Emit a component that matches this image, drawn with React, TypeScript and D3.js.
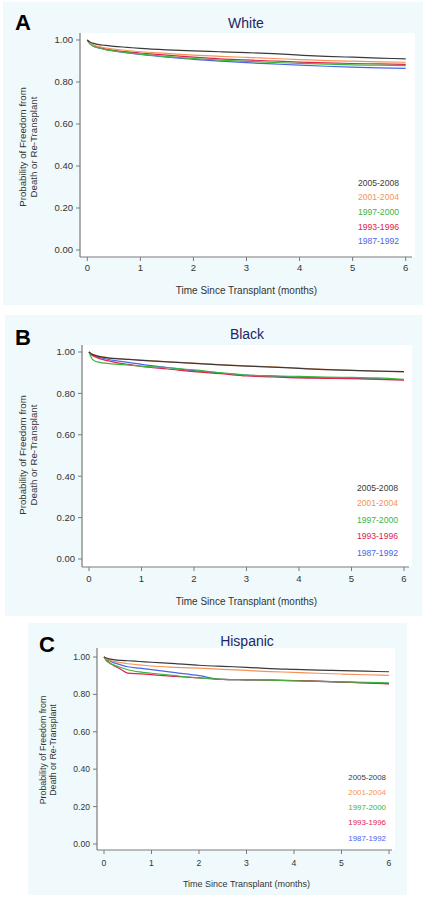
import React from "react";
import * as d3 from "d3";

// ---- Data ----
const times = [0, 0.05, 0.1, 0.2, 0.35, 0.5, 0.75, 1, 1.5, 2, 2.5, 3, 3.5, 4, 4.5, 5, 5.5, 6];
const seriesNames = ["2005-2008", "2001-2004", "1997-2000", "1993-1996", "1987-1992"];
const xTicks = [0, 1, 2, 3, 4, 5, 6];
const yTicks = [0, 0.2, 0.4, 0.6, 0.8, 1.0];

// Panel A: White
const whiteS1 = [1.0, 0.99, 0.985, 0.979, 0.974, 0.97, 0.965, 0.96, 0.953, 0.948, 0.944, 0.94, 0.935, 0.928, 0.922, 0.918, 0.914, 0.91];
const whiteS2 = [1.0, 0.985, 0.978, 0.97, 0.962, 0.957, 0.95, 0.944, 0.936, 0.928, 0.922, 0.917, 0.912, 0.907, 0.902, 0.899, 0.896, 0.894];
const whiteS3 = [1.0, 0.982, 0.973, 0.963, 0.954, 0.948, 0.94, 0.933, 0.921, 0.912, 0.904, 0.898, 0.893, 0.889, 0.885, 0.882, 0.88, 0.878];
const whiteS4 = [1.0, 0.984, 0.976, 0.966, 0.957, 0.951, 0.943, 0.938, 0.928, 0.918, 0.91, 0.905, 0.9, 0.895, 0.891, 0.888, 0.886, 0.884];
const whiteS5 = [1.0, 0.982, 0.973, 0.963, 0.954, 0.948, 0.939, 0.931, 0.918, 0.908, 0.899, 0.892, 0.886, 0.88, 0.875, 0.871, 0.867, 0.865];

// Panel B: Black
const blackS1 = [1.0, 0.99, 0.985, 0.978, 0.972, 0.968, 0.964, 0.96, 0.952, 0.945, 0.938, 0.932, 0.927, 0.921, 0.915, 0.911, 0.908, 0.905];
const blackS2 = [1.0, 0.99, 0.986, 0.979, 0.973, 0.969, 0.965, 0.961, 0.953, 0.946, 0.939, 0.933, 0.928, 0.922, 0.916, 0.911, 0.907, 0.904];
const blackS3 = [1.0, 0.97, 0.958, 0.95, 0.945, 0.941, 0.937, 0.932, 0.924, 0.914, 0.9, 0.889, 0.885, 0.882, 0.879, 0.877, 0.875, 0.868];
const blackS4 = [1.0, 0.985, 0.978, 0.968, 0.958, 0.95, 0.94, 0.93, 0.918, 0.905, 0.895, 0.884, 0.88, 0.875, 0.873, 0.871, 0.868, 0.864];
const blackS5 = [1.0, 0.988, 0.982, 0.974, 0.965, 0.958, 0.95, 0.94, 0.925, 0.91, 0.898, 0.888, 0.884, 0.878, 0.876, 0.873, 0.87, 0.866];

// Panel C: Hispanic
const hispS1 = [1.0, 0.995, 0.99, 0.986, 0.982, 0.98, 0.976, 0.972, 0.965, 0.956, 0.95, 0.945, 0.938, 0.934, 0.93, 0.927, 0.924, 0.921];
const hispS2 = [1.0, 0.99, 0.984, 0.978, 0.97, 0.964, 0.958, 0.952, 0.945, 0.94, 0.934, 0.928, 0.922, 0.918, 0.913, 0.909, 0.905, 0.902];
const hispS3 = [1.0, 0.98, 0.97, 0.958, 0.944, 0.932, 0.92, 0.913, 0.9, 0.888, 0.88, 0.878, 0.876, 0.873, 0.87, 0.867, 0.865, 0.862];
const hispS4 = [1.0, 0.985, 0.972, 0.955, 0.935, 0.914, 0.91, 0.906, 0.896, 0.888, 0.88, 0.878, 0.876, 0.874, 0.871, 0.866, 0.862, 0.856];
const hispS5 = [1.0, 0.99, 0.982, 0.97, 0.958, 0.948, 0.94, 0.932, 0.916, 0.9, 0.88, 0.878, 0.876, 0.874, 0.87, 0.866, 0.861, 0.858];

// ---- Styles ----
const seriesColors = ["#3a3a3a", "#f59356", "#3cb53c", "#e0234f", "#4a64ee"];
const FONT = "'Liberation Sans', Arial, sans-serif";

type PanelLayout = {
  letter: string;
  title: string;
  series: number[][];
  bg: [number, number, number, number];
  plotRight: number;
  plotTop: number;
  axisX: number;
  axisY: number;
  xRange: [number, number];
  yRange: [number, number];
  letterPos: [number, number];
  titlePos: [number, number];
  tickFont: number;
  tickLabelY: number;
  yLabelRight: number;
  xTitleY: number;
  xTitleFont: number;
  yLabelCenterY: number;
  yLabelX: [number, number];
  yLabelFont: number;
  legendRight: number;
  legendY: number[];
  legendFont: number;
};

const panels: PanelLayout[] = [
  {
    letter: "A", title: "White",
    series: [whiteS1, whiteS2, whiteS3, whiteS4, whiteS5],
    bg: [3, 2, 420, 303], plotRight: 415, plotTop: 33, axisX: 80, axisY: 257,
    xRange: [87.3, 405.7], yRange: [250, 40],
    letterPos: [15, 30], titlePos: [246, 28], tickFont: 9.5, tickLabelY: 271,
    yLabelRight: 73, xTitleY: 294, xTitleFont: 10, yLabelCenterY: 147,
    yLabelX: [25.5, 36.5], yLabelFont: 9.7, legendRight: 399,
    legendY: [186, 200, 215, 230, 244], legendFont: 8.6,
  },
  {
    letter: "B", title: "Black",
    series: [blackS1, blackS2, blackS3, blackS4, blackS5],
    bg: [5, 315, 417, 301], plotRight: 412, plotTop: 345, axisX: 82, axisY: 567,
    xRange: [89, 404], yRange: [559, 352],
    letterPos: [15, 345], titlePos: [247, 339], tickFont: 9.5, tickLabelY: 582,
    yLabelRight: 75, xTitleY: 605, xTitleFont: 10, yLabelCenterY: 455,
    yLabelX: [25.5, 36.5], yLabelFont: 9.7, legendRight: 398,
    legendY: [491, 506, 523, 539, 556], legendFont: 8.6,
  },
  {
    letter: "C", title: "Hispanic",
    series: [hispS1, hispS2, hispS3, hispS4, hispS5],
    bg: [28, 623, 379, 272], plotRight: 395, plotTop: 648, axisX: 97, axisY: 850,
    xRange: [104, 389], yRange: [844, 657],
    letterPos: [39, 652], titlePos: [247, 646], tickFont: 8.6, tickLabelY: 866,
    yLabelRight: 90, xTitleY: 887, xTitleFont: 9, yLabelCenterY: 750,
    yLabelX: [46, 56], yLabelFont: 8.8, legendRight: 386,
    legendY: [780, 795, 810, 825, 841], legendFont: 7.9,
  },
];

function Panel({ p }: { p: PanelLayout }) {
  const x = d3.scaleLinear().domain([0, 6]).range(p.xRange);
  const y = d3.scaleLinear().domain([0, 1]).range(p.yRange);
  const line = d3
    .line<number>()
    .x((_, i) => x(times[i]))
    .y((v) => y(v))
    .curve(d3.curveMonotoneX);
  const fmt = d3.format(".2f");
  const axisColor = "#7a7a7a";
  const [bx, by, bw, bh] = p.bg;
  return (
    <g>
      <rect x={bx} y={by} width={bw} height={bh} fill="#f0fafc" />
      <rect x={p.axisX} y={p.plotTop} width={p.plotRight - p.axisX} height={p.axisY - p.plotTop} fill="#ffffff" />
      <text x={p.letterPos[0]} y={p.letterPos[1]} fontFamily={FONT} fontWeight="bold" fontSize={22} fill="#000">
        {p.letter}
      </text>
      <text x={p.titlePos[0]} y={p.titlePos[1]} fontFamily={FONT} fontSize={14} fill="#1e2466" textAnchor="middle">
        {p.title}
      </text>
      {/* axes */}
      <line x1={p.axisX} x2={p.axisX} y1={p.plotTop} y2={p.axisY} stroke={axisColor} strokeWidth={1.2} />
      <line x1={p.axisX} x2={p.plotRight - 3} y1={p.axisY} y2={p.axisY} stroke={axisColor} strokeWidth={1.2} />
      {yTicks.map((t) => (
        <g key={"y" + t}>
          <line x1={p.axisX - 4} x2={p.axisX} y1={y(t)} y2={y(t)} stroke={axisColor} />
          <text x={p.yLabelRight} y={y(t) + p.tickFont * 0.35} fontFamily={FONT} fontSize={p.tickFont} fill="#333" textAnchor="end">
            {fmt(t)}
          </text>
        </g>
      ))}
      {xTicks.map((t) => (
        <g key={"x" + t}>
          <line x1={x(t)} x2={x(t)} y1={p.axisY} y2={p.axisY + 4} stroke={axisColor} />
          <text x={x(t)} y={p.tickLabelY} fontFamily={FONT} fontSize={p.tickFont} fill="#333" textAnchor="middle">
            {t}
          </text>
        </g>
      ))}
      <text x={(p.xRange[0] + p.xRange[1]) / 2} y={p.xTitleY} fontFamily={FONT} fontSize={p.xTitleFont} fill="#333" textAnchor="middle">
        Time Since Transplant (months)
      </text>
      <g fontFamily={FONT} fontSize={p.yLabelFont} fill="#333" textAnchor="middle">
        <text transform={`translate(${p.yLabelX[0]},${p.yLabelCenterY}) rotate(-90)`}>Probability of Freedom from</text>
        <text transform={`translate(${p.yLabelX[1]},${p.yLabelCenterY}) rotate(-90)`}>Death or Re-Transplant</text>
      </g>
      {/* curves: oldest first so newest on top */}
      {p.series
        .map((s, i) => ({ s, i }))
        .reverse()
        .map(({ s, i }) => (
          <path key={"s" + i} d={line(s) || ""} fill="none" stroke={seriesColors[i]} strokeWidth={1.2} />
        ))}
      {seriesNames.map((n, i) => (
        <text key={"l" + i} x={p.legendRight} y={p.legendY[i]} fontFamily={FONT} fontSize={p.legendFont} fill={seriesColors[i]} textAnchor="end">
          {n}
        </text>
      ))}
    </g>
  );
}

export default function App() {
  return (
    <svg width={428} height={900} style={{ position: "absolute", left: 0, top: 0, background: "#fff" }}>
      {panels.map((p) => (
        <Panel key={p.letter} p={p} />
      ))}
    </svg>
  );
}
